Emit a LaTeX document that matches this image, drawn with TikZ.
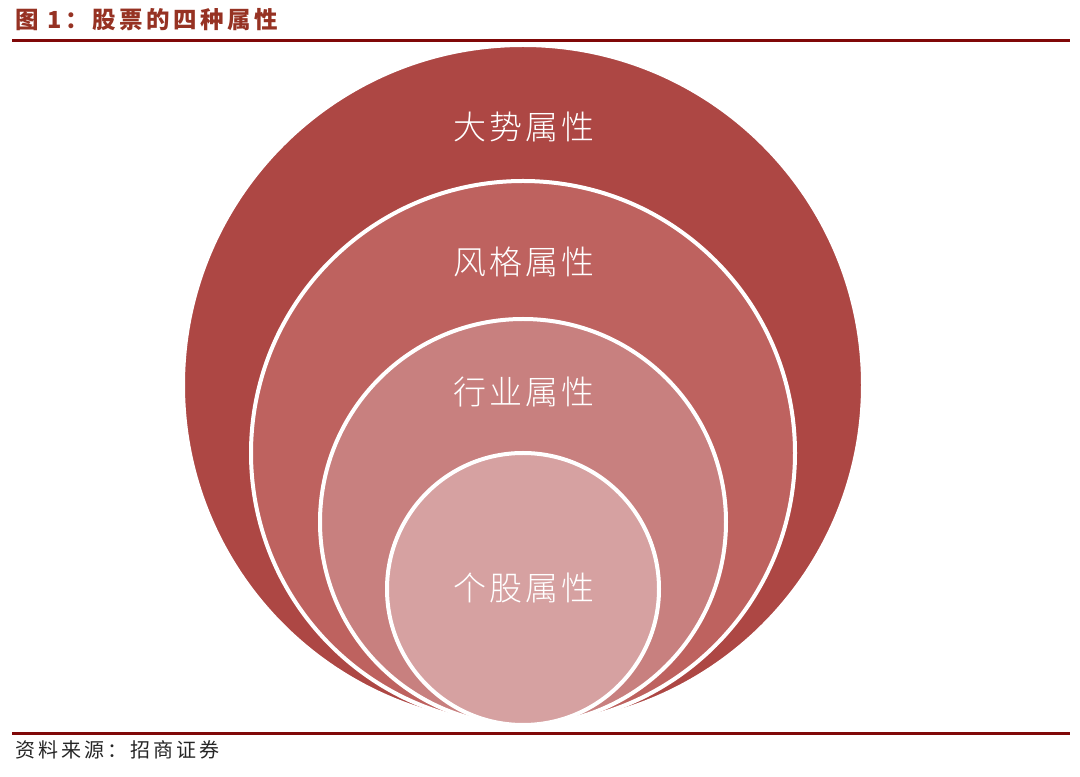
\documentclass[tikz,border=0pt]{standalone}
\usepackage{fontspec}
\newfontfamily\cjk{Noto Sans CJK SC}
\newfontfamily\cjkwide[LetterSpace=15]{Noto Sans CJK SC}
\newfontfamily\cjklight[LetterSpace=10]{Noto Sans CJK SC Light}
\definecolor{ringA}{RGB}{173,71,68}
\definecolor{ringB}{RGB}{190,98,95}
\definecolor{ringC}{RGB}{200,128,127}
\definecolor{ringD}{RGB}{214,161,161}
\definecolor{rule}{RGB}{128,8,8}
\definecolor{titlered}{RGB}{150,50,35}
\tikzset{
	ring/.style={draw=white, line width=4pt},
	label/.style={text=white, font=\cjklight\fontsize{33}{33}\selectfont, inner sep=0pt},
}

\begin{document}
\begin{tikzpicture}[x=1pt, y=1pt]
	\useasboundingbox (0,0) rectangle (1080,777);
	% title and rules
	\node[anchor=west, inner sep=0pt, text=titlered, font=\cjkwide\bfseries\fontsize{23.5}{23.5}\selectfont] (title) at (15,757) {图 1：股票的四种属性};
	\draw[rule, line width=3pt] (12,736) -- (1070,736);
	\draw[rule, line width=3pt] (12,43) -- (1070,43);
	\node[anchor=west, inner sep=0pt, text=black!85, font=\cjkwide\fontsize{20}{20}\selectfont] (source) at (15,27) {资料来源：招商证券};
	% nested circles, all touching at the bottom
	\fill[ringA, ring] (523,392) circle[radius=340];
	\fill[ringB, ring] (523,324) circle[radius=272];
	\fill[ringC, ring] (523,255) circle[radius=203];
	\fill[ringD, ring] (523,188) circle[radius=136];
	\node[label] (trend) at (524,650) {大势属性};
	\node[label] (style) at (524,515) {风格属性};
	\node[label] (sector) at (524,385) {行业属性};
	\node[label] (stock) at (524,189) {个股属性};
\end{tikzpicture}
\end{document}
